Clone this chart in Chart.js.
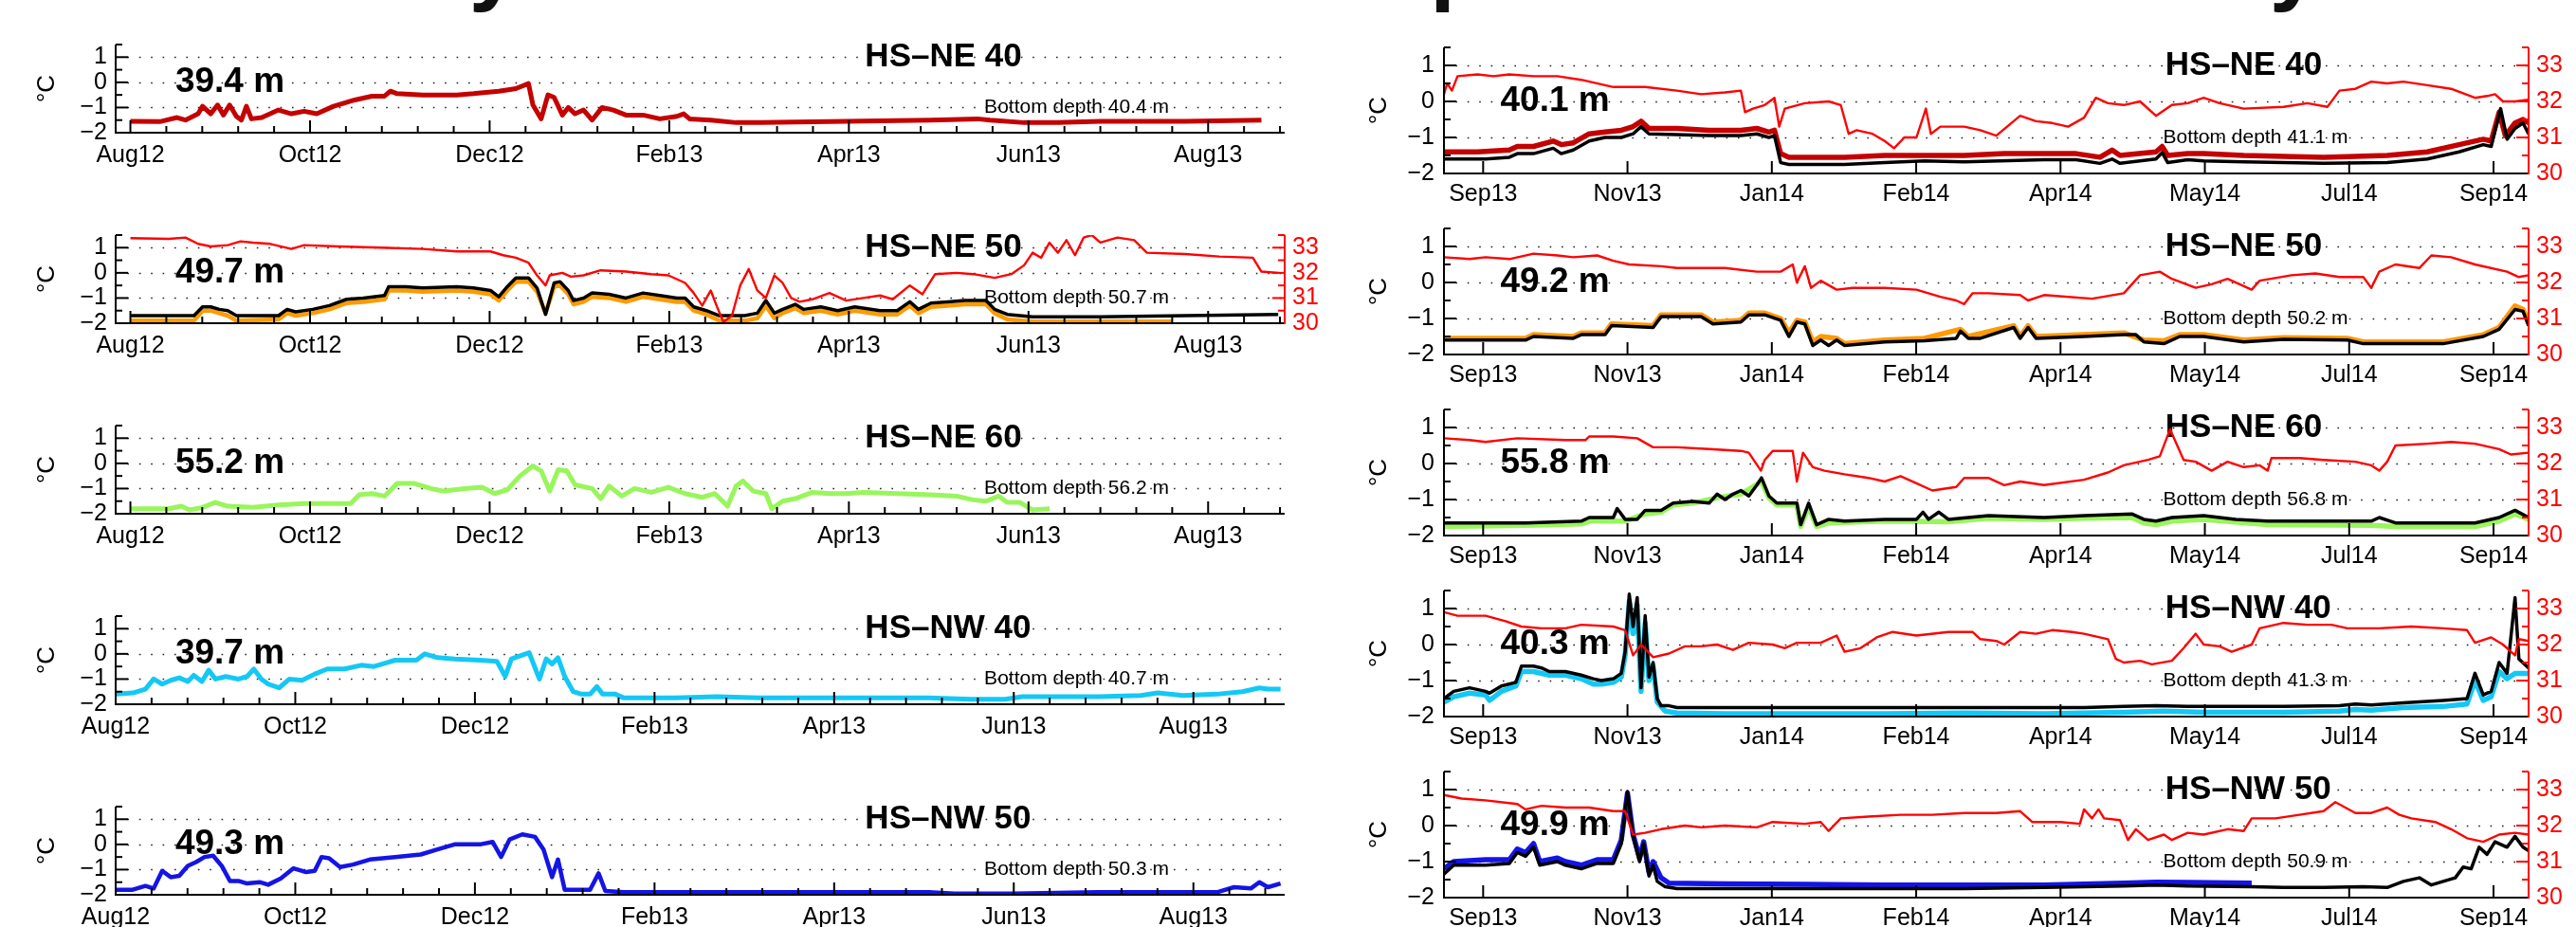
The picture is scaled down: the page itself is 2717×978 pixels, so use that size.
<!DOCTYPE html>
<html>
<head>
<meta charset="utf-8">
<script src="https://cdn.jsdelivr.net/npm/chart.js@4.4.1/dist/chart.umd.min.js"></script>
<style>
  body { margin: 0; background: #fff; width: 2717px; height: 978px; overflow: hidden; position: relative; }
  canvas { position: absolute; }
  .head { position: absolute; top: -88px; font: bold 96px/1 "Liberation Sans", Arial, sans-serif; white-space: nowrap; color: #111; }
</style>
</head>
<body>
<div class="head" style="left:260px">First year</div>
<div class="head" style="left:1318px">Temperature and salinity</div>
<script>
// x values are days since the start of each deployment (Aug 1 2012 / Sep 1 2013)
const siteNames = ['HS–NE 40', 'HS–NE 50', 'HS–NE 60', 'HS–NW 40', 'HS–NW 50'];
const sensorDepthsY1 = ['39.4 m', '49.7 m', '55.2 m', '39.7 m', '49.3 m'];
const bottomDepthsY1 = ['40.4 m', '50.7 m', '56.2 m', '40.7 m', '50.3 m'];
const sensorDepthsY2 = ['40.1 m', '49.2 m', '55.8 m', '40.3 m', '49.9 m'];
const bottomDepthsY2 = ['41.1 m', '50.2 m', '56.8 m', '41.3 m', '50.9 m'];
const tempTicks = [-2, -1, 0, 1];
const salTicks = [30, 31, 32, 33];
const MONTHS = ['Jan','Feb','Mar','Apr','May','Jun','Jul','Aug','Sep','Oct','Nov','Dec'];

// ---- 2012-2013 ----
const ne40Y1 = [[4,-1.55],[14,-1.56],[19.8,-1.4],[22.7,-1.5],[27,-1.25],[28.5,-0.95],[31.3,-1.25],[33.6,-0.9],[35.6,-1.3],[37.7,-0.9],[40,-1.35],[41.7,-1.5],[43.4,-0.95],[45.1,-1.45],[48.6,-1.4],[54.3,-1.1],[58.7,-1.25],[63,-1.15],[67.3,-1.25],[73,-0.95],[80.2,-0.7],[86,-0.55],[90.3,-0.55],[92.3,-0.35],[94.6,-0.45],[103.3,-0.5],[114.8,-0.5],[120.5,-0.45],[129.1,-0.35],[134.9,-0.25],[139.2,-0.05],[140.7,-0.9],[143.5,-1.45],[145.8,-0.5],[147.9,-0.6],[150.7,-1.3],[152.7,-1.0],[155,-1.25],[157.9,-1.1],[160.8,-1.5],[164.2,-1.0],[168,-1.1],[172.3,-1.3],[178.1,-1.3],[183.8,-1.45],[189.6,-1.35],[191.9,-1.25],[193.9,-1.45],[201.1,-1.5],[209.7,-1.6],[218.3,-1.6],[247.1,-1.55],[275.9,-1.5],[291.7,-1.45],[296,-1.5],[307.5,-1.6],[319,-1.6],[333.4,-1.55],[362.2,-1.55],[388.1,-1.5]];
const ne50Y1Black = [[4,-1.7],[25.6,-1.7],[28.5,-1.35],[31.3,-1.35],[34.2,-1.45],[37.1,-1.5],[40,-1.7],[54.3,-1.7],[57.2,-1.45],[60.1,-1.55],[65.9,-1.45],[71.6,-1.3],[77.4,-1.05],[83.1,-1.0],[90.3,-0.9],[91.7,-0.55],[97.5,-0.55],[103.3,-0.6],[114.8,-0.55],[120.5,-0.6],[126.3,-0.7],[129.1,-0.95],[132,-0.55],[134.9,-0.2],[139.2,-0.2],[142.1,-0.6],[145,-1.65],[147.9,-0.4],[149.9,-0.35],[152.7,-0.7],[154.5,-1.1],[157.9,-1.0],[160.8,-0.8],[166.6,-0.85],[172.3,-1.0],[178.1,-0.8],[183.8,-0.9],[189.6,-1.0],[192.4,-1.0],[195.3,-1.35],[199.6,-1.5],[204,-1.7],[212.6,-1.7],[216.9,-1.6],[219.8,-1.1],[222.7,-1.6],[225.5,-1.45],[229.8,-1.25],[232.7,-1.45],[238.5,-1.35],[244.2,-1.5],[250,-1.35],[258.6,-1.5],[264.4,-1.5],[268.7,-1.15],[271.6,-1.45],[275.9,-1.2],[281.6,-1.15],[287.4,-1.1],[294.6,-1.1],[297.5,-1.45],[301.8,-1.65],[310.4,-1.75],[333.4,-1.75],[362.2,-1.7],[393.8,-1.65]];
const ne50Y1Orange = [[4,-1.9],[25.6,-1.9],[28.5,-1.5],[31.3,-1.5],[34.2,-1.6],[37.1,-1.7],[40,-1.9],[54.3,-1.85],[57.2,-1.6],[60.1,-1.7],[65.9,-1.6],[71.6,-1.45],[77.4,-1.2],[83.1,-1.15],[90.3,-1.05],[91.7,-0.7],[97.5,-0.7],[103.3,-0.75],[114.8,-0.7],[120.5,-0.75],[126.3,-0.85],[129.1,-1.1],[132,-0.7],[134.9,-0.35],[139.2,-0.35],[142.1,-0.75],[145,-1.6],[147.9,-0.55],[149.9,-0.5],[152.7,-0.85],[154.5,-1.25],[157.9,-1.15],[160.8,-0.95],[166.6,-1.0],[172.3,-1.15],[178.1,-0.95],[183.8,-1.05],[189.6,-1.15],[192.4,-1.15],[195.3,-1.5],[199.6,-1.65],[204,-1.9],[212.6,-1.9],[216.9,-1.8],[219.8,-1.3],[222.7,-1.8],[225.5,-1.6],[229.8,-1.4],[232.7,-1.6],[238.5,-1.5],[244.2,-1.65],[250,-1.5],[258.6,-1.65],[264.4,-1.65],[268.7,-1.3],[271.6,-1.6],[275.9,-1.35],[281.6,-1.3],[287.4,-1.25],[294.6,-1.25],[297.5,-1.6],[301.8,-1.85],[310.4,-1.93],[333.4,-1.93],[357.9,-1.93]];
const ne50Y1Sal = [[4,33.38],[17,33.35],[22.7,33.4],[27,33.15],[31.3,33.05],[37.1,33.1],[41.4,33.25],[45.7,33.2],[51.5,33.15],[58.7,32.95],[63,33.1],[74.5,33.05],[88.9,33.0],[103.3,32.95],[114.8,32.85],[126.3,32.85],[130.6,32.7],[134.9,32.6],[139.2,32.4],[142.1,31.9],[145,31.5],[146.4,31.9],[150.7,32.0],[153.6,31.85],[157.9,31.9],[163.7,32.1],[172.3,32.05],[180.9,31.95],[186.7,31.9],[192.4,31.6],[195.3,31.2],[198.2,30.7],[201.1,31.3],[203.4,30.6],[205.4,30.05],[208.3,30.3],[211.1,31.5],[214,32.15],[216.9,31.3],[219.8,31.0],[222.7,31.9],[225.5,31.6],[228.4,31.0],[231.3,30.85],[235.6,30.95],[241.4,31.2],[247.1,30.9],[252.9,31.0],[258.6,31.1],[262.9,30.95],[268.7,31.5],[273,31.15],[277.3,31.95],[284.5,32.0],[290.3,31.95],[297.5,31.8],[303.2,31.95],[307.5,32.3],[310.4,32.8],[313.3,32.6],[316.1,33.2],[319,32.8],[321.9,33.3],[324.8,32.7],[327.7,33.4],[330.5,33.5],[333.4,33.2],[339.2,33.4],[344.9,33.3],[349.2,32.8],[362.2,32.75],[373.7,32.65],[385.2,32.6],[388.1,32.05],[393.8,32.0]];
const ne60Y1 = [[4,-1.8],[17,-1.8],[21.3,-1.7],[24.1,-1.85],[28.5,-1.75],[32.8,-1.55],[37.1,-1.7],[45.7,-1.75],[54.3,-1.65],[63,-1.6],[78.8,-1.6],[81.7,-1.25],[86,-1.2],[90.3,-1.3],[94.6,-0.8],[100.4,-0.8],[106.1,-1.0],[110.4,-1.1],[117.6,-1.0],[123.4,-0.95],[127.7,-1.2],[132,-1.05],[136.3,-0.5],[140.7,-0.1],[143.5,-0.3],[146.4,-1.1],[149.3,-0.25],[152.2,-0.3],[155,-0.85],[160.8,-1.0],[163.7,-1.4],[166.6,-0.9],[170.9,-1.3],[175.2,-1.0],[180.9,-1.15],[186.7,-0.95],[192.4,-1.2],[198.2,-1.35],[202.5,-1.2],[206.8,-1.7],[209.7,-0.9],[212,-0.7],[215.5,-1.1],[219.8,-1.2],[221.8,-1.8],[225.5,-1.5],[229.8,-1.4],[235.6,-1.15],[241.4,-1.2],[247.1,-1.2],[252.9,-1.15],[264.4,-1.2],[275.9,-1.25],[284.5,-1.3],[290.3,-1.45],[294.6,-1.5],[298.9,-1.3],[301.8,-1.55],[306.1,-1.55],[310.4,-1.85],[316.2,-1.8]];
const nw40Y1 = [[4,-1.6],[9.8,-1.55],[14.1,-1.4],[16.9,-1.0],[19.8,-1.2],[22.7,-1.05],[25.6,-0.95],[28.5,-1.1],[30.5,-0.85],[33.3,-1.1],[35.6,-0.65],[37.9,-1.0],[41.4,-0.9],[45.7,-1.0],[48.6,-0.9],[50.9,-0.6],[53.5,-1.0],[55.8,-1.2],[59.5,-1.35],[63,-1.0],[67.3,-1.05],[71.6,-0.8],[75.9,-0.6],[81.7,-0.6],[87.4,-0.45],[91.7,-0.5],[96.1,-0.35],[98.9,-0.25],[106.1,-0.25],[109,0.0],[113.3,-0.15],[119.1,-0.2],[127.7,-0.25],[133.5,-0.3],[136.3,-0.9],[138.4,-0.2],[142.1,-0.05],[144.4,0.05],[147.9,-1.0],[150.2,-0.2],[152.2,-0.4],[154.2,-0.15],[156.5,-0.9],[159.4,-1.5],[162.2,-1.6],[165.1,-1.6],[167.4,-1.3],[169.4,-1.6],[173.7,-1.6],[176.6,-1.75],[193.9,-1.75],[208.3,-1.7],[222.7,-1.75],[251.4,-1.75],[280.2,-1.75],[294.6,-1.8],[306.1,-1.8],[311.8,-1.7],[337.7,-1.7],[352.1,-1.65],[357.9,-1.55],[366.5,-1.65],[378,-1.6],[386.6,-1.5],[392.4,-1.35],[395.3,-1.4],[399.6,-1.4]];
const nw50Y1 = [[4,-1.8],[9.8,-1.8],[14.1,-1.65],[16.9,-1.75],[19.8,-1.05],[22.7,-1.3],[25.6,-1.25],[28.5,-0.85],[31.3,-0.7],[34.2,-0.5],[37.1,-0.45],[40,-0.85],[42.8,-1.45],[45.7,-1.45],[48.6,-1.55],[52.9,-1.5],[55.8,-1.6],[60.1,-1.35],[64.4,-0.95],[68.7,-1.1],[71.6,-1.05],[73.9,-0.5],[76.5,-0.55],[80.2,-0.9],[84.6,-0.8],[90.3,-0.6],[98.9,-0.5],[107.6,-0.4],[113.3,-0.2],[119.1,0.0],[127.7,0.0],[132,0.1],[134.9,-0.5],[137.8,0.2],[142.1,0.4],[146.4,0.3],[149.3,-0.2],[152.2,-1.3],[154.2,-0.6],[156.5,-1.8],[165.1,-1.8],[168,-1.15],[170.3,-1.85],[176.6,-1.9],[222.7,-1.9],[280.2,-1.9],[288.8,-1.95],[309,-1.95],[337.7,-1.9],[378,-1.9],[383.8,-1.7],[389.5,-1.75],[392.4,-1.5],[395.3,-1.7],[399.6,-1.55]];

// ---- 2013-2014 ----
const ne40Y2Red = [[11.7,-1.4],[23.1,-1.4],[33.9,-1.35],[36.6,-1.25],[42.1,-1.25],[48.8,-1.1],[51.5,-1.2],[55.6,-1.15],[61,-0.9],[66.4,-0.85],[71.9,-0.8],[75.9,-0.7],[78.6,-0.55],[81.3,-0.75],[90.8,-0.75],[101.7,-0.8],[112.5,-0.8],[117.9,-0.75],[122,-0.85],[123.9,-0.8],[126,-1.45],[128.8,-1.55],[147.7,-1.55],[161.3,-1.5],[188.3,-1.5],[201.9,-1.45],[215.4,-1.45],[226.3,-1.45],[234.4,-1.55],[238.5,-1.35],[241.2,-1.5],[253.4,-1.4],[255.5,-1.25],[257.4,-1.5],[264.2,-1.45],[269.6,-1.45],[283.2,-1.5],[310.3,-1.55],[331.9,-1.5],[345.5,-1.4],[356.3,-1.2],[364.5,-1.05],[367.2,-1.1],[369.9,-0.3],[372,-0.95],[375.3,-0.6],[378,-0.5],[379.9,-0.6]];
const ne40Y2Black = [[11.7,-1.6],[25.8,-1.6],[33.9,-1.55],[36.6,-1.45],[42.1,-1.45],[48.8,-1.3],[51.5,-1.45],[55.6,-1.35],[61,-1.1],[66.4,-1.0],[71.9,-1.0],[75.9,-0.9],[78.6,-0.7],[81.3,-0.9],[90.8,-0.92],[101.7,-0.95],[112.5,-0.95],[117.9,-0.9],[122,-1.0],[123.9,-0.95],[126,-1.7],[128.8,-1.75],[147.7,-1.75],[161.3,-1.7],[174.8,-1.65],[188.3,-1.68],[215.4,-1.62],[226.3,-1.62],[234.4,-1.72],[238.5,-1.6],[241.2,-1.72],[253.4,-1.6],[255.5,-1.42],[257.4,-1.7],[264.2,-1.62],[269.6,-1.65],[283.2,-1.68],[310.3,-1.72],[331.9,-1.7],[345.5,-1.6],[356.3,-1.4],[364.5,-1.2],[367.2,-1.25],[370.4,-0.2],[372.6,-1.05],[375.3,-0.75],[378,-0.6],[379.9,-0.9]];
const ne40Y2Sal = [[11.7,32.2],[12.8,32.5],[14.4,32.3],[16.3,32.7],[23.1,32.75],[28.5,32.7],[33.9,32.75],[42.1,32.7],[50.2,32.7],[58.3,32.6],[69.2,32.4],[80,32.4],[90.8,32.3],[99,32.2],[107.1,32.25],[112.5,32.3],[113.9,31.7],[116.6,31.8],[120.6,31.9],[123.9,32.1],[125.5,31.3],[127.4,31.8],[134.2,31.95],[142.3,32.0],[146.4,31.9],[149.1,31.1],[151.8,31.2],[157.2,31.1],[161.3,30.9],[164.5,30.7],[168,31.0],[172.1,31.0],[175.3,31.8],[177,31.1],[180.2,31.3],[188.3,31.3],[193.8,31.2],[199.2,31.05],[207.3,31.6],[212.7,31.45],[218.2,31.4],[223.6,31.3],[229,31.55],[233,32.1],[237.1,31.95],[242.5,31.9],[248,32.0],[253.4,31.6],[258.8,31.9],[264.2,31.95],[269.6,32.1],[275,31.95],[283.2,31.8],[296.7,31.85],[304.8,31.95],[311.6,31.85],[315.7,32.3],[321.1,32.35],[326.5,32.55],[331.9,32.5],[337.4,32.55],[345.5,32.45],[353.6,32.35],[361.7,32.1],[365.8,32.15],[368.5,32.2],[371.2,32.0],[375.3,32.0],[379.9,32.05]];
const ne50Y2Black = [[11.7,-1.6],[39.4,-1.6],[42.1,-1.5],[55.6,-1.55],[58.3,-1.45],[66.4,-1.45],[68.6,-1.2],[82.7,-1.25],[85.4,-0.95],[99,-0.95],[103,-1.15],[112.5,-1.1],[115.2,-0.9],[120.6,-0.9],[126,-1.05],[128.8,-1.5],[131.5,-1.1],[134.2,-1.15],[136.9,-1.75],[139.6,-1.6],[142.3,-1.75],[145,-1.6],[147.7,-1.75],[161.3,-1.65],[174.8,-1.62],[185.6,-1.55],[187,-1.35],[189.7,-1.55],[193.8,-1.55],[205.1,-1.25],[207.3,-1.55],[210,-1.25],[212.7,-1.55],[229,-1.5],[242.5,-1.45],[246.6,-1.45],[249.3,-1.65],[256.1,-1.7],[261.5,-1.5],[269.6,-1.5],[283.2,-1.65],[296.7,-1.58],[318.4,-1.6],[323.8,-1.7],[350.9,-1.7],[364.5,-1.5],[369.9,-1.3],[375.3,-0.75],[378,-0.8],[379.9,-1.2]];
const ne50Y2Orange = [[11.7,-1.55],[39.4,-1.55],[42.1,-1.45],[55.6,-1.5],[58.3,-1.4],[66.4,-1.4],[68.6,-1.15],[82.7,-1.2],[85.4,-0.9],[99,-0.9],[103,-1.1],[112.5,-1.05],[115.2,-0.85],[120.6,-0.85],[126,-1.0],[128.8,-1.4],[131.5,-1.05],[134.2,-1.1],[136.9,-1.65],[139.6,-1.5],[145,-1.55],[147.7,-1.7],[161.3,-1.6],[174.8,-1.55],[187,-1.3],[189.7,-1.5],[205.1,-1.2],[207.3,-1.5],[210,-1.2],[212.7,-1.5],[242.5,-1.4],[249.3,-1.6],[256.1,-1.62],[261.5,-1.45],[269.6,-1.45],[283.2,-1.6],[296.7,-1.53],[318.4,-1.55],[323.8,-1.65],[350.9,-1.65],[364.5,-1.45],[369.9,-1.25],[375.3,-0.65],[378,-0.75],[379.9,-1.1]];
const ne50Y2Sal = [[11.7,32.7],[20.4,32.65],[25.8,32.7],[33.9,32.65],[42.1,32.8],[50.2,32.75],[55.6,32.7],[63.7,32.75],[69.2,32.6],[74.6,32.5],[85.4,32.45],[90.8,32.4],[107.1,32.4],[117.9,32.3],[126,32.3],[130.1,32.5],[131.5,32.0],[134.2,32.45],[136.3,31.85],[139.6,32.05],[145,31.8],[150.4,31.85],[161.3,31.85],[172.1,31.8],[180.2,31.6],[185.6,31.5],[188.3,31.4],[191.1,31.7],[196.5,31.7],[207.3,31.65],[210,31.5],[215.4,31.65],[231.7,31.55],[242.5,31.7],[248,32.2],[254.7,32.3],[258.8,32.1],[266.9,31.85],[272.3,31.95],[277.7,32.1],[285.9,31.8],[288.6,32.05],[299.4,32.2],[307.5,32.25],[315.7,32.15],[323.8,32.15],[326.5,31.85],[329.2,32.3],[334.7,32.5],[342.8,32.4],[346.9,32.75],[353.6,32.7],[361.7,32.5],[372.6,32.3],[376.6,32.15],[379.9,32.2]];
const ne60Y2Black = [[11.7,-1.65],[39.4,-1.65],[58.3,-1.6],[61,-1.5],[69.2,-1.5],[70.5,-1.25],[73.2,-1.55],[77.3,-1.55],[80,-1.3],[85.4,-1.3],[89.5,-1.1],[96.2,-1.05],[101.7,-1.1],[104.4,-0.85],[107.1,-1.0],[109.8,-0.85],[112.5,-0.75],[115.2,-0.9],[117.9,-0.6],[119.5,-0.4],[122,-0.9],[124.7,-1.1],[131.5,-1.1],[132.8,-1.7],[135.5,-1.1],[138.2,-1.7],[142.3,-1.55],[147.7,-1.6],[161.3,-1.55],[172.1,-1.55],[174.3,-1.35],[176.2,-1.55],[179.7,-1.35],[182.9,-1.55],[196.5,-1.45],[215.4,-1.5],[229,-1.45],[245.2,-1.4],[249.3,-1.55],[253.4,-1.6],[258.8,-1.5],[269.6,-1.45],[280.5,-1.55],[291.3,-1.6],[310.3,-1.6],[326.5,-1.6],[329.2,-1.5],[334.7,-1.65],[361.7,-1.65],[369.9,-1.5],[375.3,-1.3],[379.9,-1.5]];
const ne60Y2Green = [[11.7,-1.75],[39.4,-1.72],[58.3,-1.68],[61,-1.6],[69.2,-1.6],[73.2,-1.6],[80,-1.4],[85.4,-1.35],[89.5,-1.15],[96.2,-1.1],[104.4,-0.95],[112.5,-0.85],[119.5,-0.5],[122,-0.95],[124.7,-1.15],[131.5,-1.15],[132.8,-1.75],[135.5,-1.2],[138.2,-1.75],[142.3,-1.65],[161.3,-1.6],[182.9,-1.62],[196.5,-1.52],[215.4,-1.55],[229,-1.52],[245.2,-1.5],[249.3,-1.65],[253.4,-1.7],[258.8,-1.6],[269.6,-1.55],[291.3,-1.7],[326.5,-1.72],[334.7,-1.75],[361.7,-1.75],[369.9,-1.6],[375.3,-1.4],[379.9,-1.55]];
const ne60Y2Sal = [[11.7,32.7],[20.4,32.65],[25.8,32.6],[36.6,32.7],[52.9,32.65],[59.7,32.65],[61,32.75],[69.2,32.75],[77.3,32.7],[82.7,32.45],[90.8,32.45],[101.7,32.4],[112.5,32.35],[115.2,32.3],[119.3,31.8],[120.6,32.1],[123.3,32.35],[130.1,32.35],[131.5,31.5],[133.6,32.3],[136.9,31.9],[140.9,31.8],[147.7,31.7],[155.8,31.6],[161.3,31.5],[166.7,31.65],[172.1,31.45],[177.5,31.25],[185.6,31.35],[188.3,31.6],[196.5,31.6],[201.9,31.4],[207.3,31.5],[215.4,31.4],[229,31.55],[237.1,31.75],[242.5,31.95],[250.7,32.1],[254.7,32.2],[258.2,32.95],[262.8,32.1],[266.9,32.05],[272.3,31.8],[277.7,32.05],[283.2,31.9],[288.6,31.95],[291.3,31.8],[292.6,32.15],[302.1,32.15],[310.3,32.1],[321.1,32.05],[326.5,31.95],[329.2,31.8],[331.9,32.05],[334.7,32.5],[345.5,32.55],[353.6,32.6],[361.7,32.55],[369.9,32.4],[373.9,32.25],[379.9,32.3]];
const nw40Y2Black = [[11.7,-1.5],[15,-1.3],[20.4,-1.2],[25.8,-1.3],[27.2,-1.35],[31.2,-1.15],[36.1,-1.05],[38,-0.6],[42.1,-0.6],[44.8,-0.65],[47.5,-0.75],[52.9,-0.75],[58.3,-0.85],[62.4,-0.95],[65.1,-1.0],[69.2,-0.95],[71.9,-0.8],[73.2,-0.2],[74.6,1.4],[75.9,0.5],[77.3,1.3],[78.6,-1.2],[80,0.8],[81.3,-0.9],[82.7,-0.5],[84.1,-1.5],[85.4,-1.7],[88.1,-1.7],[90.8,-1.75],[188.3,-1.75],[229,-1.75],[242.5,-1.72],[253.4,-1.7],[264.2,-1.72],[296.7,-1.72],[315.7,-1.7],[321.1,-1.65],[326.5,-1.68],[337.4,-1.62],[350.9,-1.55],[359,-1.5],[361.7,-0.8],[364.5,-1.4],[367.2,-1.3],[369.9,-0.5],[372.6,-0.8],[375.3,1.3],[376.6,-0.4],[379.9,-0.65]];
const nw40Y2Cyan = [[11.7,-1.6],[15,-1.45],[20.4,-1.35],[25.8,-1.4],[27.2,-1.55],[31.2,-1.3],[36.1,-1.15],[38,-0.75],[42.1,-0.75],[47.5,-0.85],[52.9,-0.85],[58.3,-0.95],[62.4,-1.1],[65.1,-1.1],[69.2,-1.05],[71.9,-0.9],[73.2,-0.3],[74.6,1.2],[75.9,0.3],[77.3,1.1],[78.6,-1.3],[80,0.6],[81.3,-1.0],[82.7,-0.6],[84.1,-1.6],[86.8,-1.85],[90.8,-1.9],[107.1,-1.92],[161.3,-1.92],[188.3,-1.9],[215.4,-1.92],[242.5,-1.88],[256.1,-1.85],[269.6,-1.88],[296.7,-1.88],[315.7,-1.85],[321.1,-1.8],[326.5,-1.82],[337.4,-1.75],[350.9,-1.72],[359,-1.65],[361.7,-1.0],[364.5,-1.55],[367.2,-1.45],[369.9,-0.75],[372.6,-0.95],[375.3,-0.8],[379.9,-0.8]];
const nw40Y2Sal = [[11.7,32.9],[16.3,32.8],[25.8,32.8],[32.6,32.65],[38,32.5],[44.8,32.45],[52.9,32.45],[58.3,32.55],[69.2,32.5],[73.2,32.4],[75.9,31.7],[78.6,32.0],[82.7,31.65],[88.1,31.75],[93.5,31.95],[99,31.95],[104.4,32.0],[109.8,31.85],[115.2,32.05],[123.3,32.0],[127.4,31.9],[131.5,32.05],[139.6,32.05],[145,32.25],[147.7,31.8],[153.1,31.9],[158.6,32.2],[164,32.35],[172.1,32.25],[182.9,32.35],[191.1,32.35],[193.8,32.15],[199.2,32.1],[201.9,32.0],[207.3,32.35],[212.7,32.3],[218.2,32.4],[224.9,32.35],[229,32.3],[237.1,32.15],[239.8,31.6],[242.5,31.5],[248,31.55],[252,31.45],[258.8,31.55],[262.8,31.9],[266.9,32.3],[269.6,32.0],[275,31.95],[279.1,31.8],[285.9,32.0],[288.6,32.45],[296.7,32.6],[304.8,32.55],[313,32.55],[318.4,32.45],[329.2,32.45],[340.1,32.5],[350.9,32.45],[359,32.4],[361.7,32.05],[367.2,32.2],[371.2,32.0],[375.3,31.7],[376.6,32.15],[379.9,32.1]];
const nw50Y2Black = [[11.7,-1.35],[15,-1.1],[25.8,-1.1],[33.9,-1.05],[36.6,-0.75],[39.4,-0.85],[42.1,-0.6],[44.2,-1.1],[50.2,-1.0],[52.9,-1.1],[58.3,-1.2],[63.7,-1.05],[69.2,-1.05],[71.9,-0.5],[74,0.95],[75.9,-0.3],[78.1,-1.0],[79.5,-0.5],[81.3,-1.4],[82.7,-1.1],[84.1,-1.55],[86.8,-1.7],[90.8,-1.75],[188.3,-1.75],[215.4,-1.72],[229,-1.7],[242.5,-1.68],[253.4,-1.65],[264.2,-1.68],[285.9,-1.7],[296.7,-1.72],[310.3,-1.72],[323.8,-1.7],[331.9,-1.72],[337.4,-1.55],[342.8,-1.45],[346.9,-1.65],[350.9,-1.55],[355,-1.45],[357.7,-1.15],[360.4,-1.2],[363.1,-0.6],[365.8,-0.8],[368.5,-0.45],[372.6,-0.6],[375.3,-0.3],[378,-0.6],[379.9,-0.7]];
const nw50Y2Blue = [[11.7,-1.2],[15,-1.0],[25.8,-0.95],[33.9,-0.95],[36.6,-0.65],[39.4,-0.75],[42.1,-0.5],[44.2,-1.0],[50.2,-0.9],[52.9,-1.0],[58.3,-1.1],[63.7,-0.95],[69.2,-0.95],[71.9,-0.4],[74,0.9],[75.9,-0.25],[78.1,-0.9],[79.5,-0.45],[81.3,-1.3],[82.7,-1.0],[85.4,-1.45],[88.1,-1.6],[107.1,-1.62],[134.2,-1.63],[161.3,-1.65],[188.3,-1.65],[215.4,-1.65],[242.5,-1.6],[253.4,-1.57],[264.2,-1.58],[285.9,-1.6]];
const nw50Y2Sal = [[11.7,32.85],[17.7,32.75],[25.8,32.7],[36.6,32.6],[39.4,32.45],[44.8,32.55],[52.9,32.5],[61,32.5],[69.2,32.4],[73.2,32.4],[75.9,31.75],[80,31.8],[85.4,31.9],[93.5,32.0],[99,31.95],[107.1,32.0],[117.9,31.95],[123.3,32.1],[134.2,32.05],[139.6,32.1],[142.3,31.85],[146.4,32.2],[155.8,32.25],[166.7,32.3],[177.5,32.3],[188.3,32.35],[199.2,32.35],[207.3,32.4],[211.4,32.1],[220.9,32.1],[227.6,32.05],[229,32.45],[231.7,32.2],[233.9,32.45],[235.8,32.2],[241.2,32.15],[243.9,31.6],[246.6,31.9],[250.7,31.6],[256.1,31.75],[258.8,31.6],[264.2,31.8],[269.6,31.75],[277.7,31.9],[283.2,31.85],[285.9,32.2],[294,32.2],[302.1,32.3],[310.3,32.4],[314.3,32.65],[321.1,32.35],[326.5,32.35],[331.9,32.5],[336,32.3],[340.1,32.2],[348.2,32.1],[353.6,31.9],[359,31.65],[364.5,31.55],[369.9,31.75],[375.3,31.8],[379.9,31.75]];

const FONT = '"Liberation Sans", Arial, Helvetica, sans-serif';
const BLACK = '#000000', DARK_RED = '#c40000', ORANGE = '#ff9a00', GREEN = '#99f55c', CYAN = '#14c8f5', BLUE = '#1414e6', SAL_RED = '#ff0000';

const columns = {
  y1: { left: 0, width: 1440, plotLeft: 122, plotRight: 1355, plotH: 97, top0: 43, step: 201,
        base: Date.UTC(2012, 7, 1), tickStep: 61, minorPerMajor: 5, xPad: 9, yPad: 9, titleX: 50,
        depthX: 0.051, nameX: 0.641, bottomX: 0.743 },
  y2: { left: 1410, width: 1307, plotLeft: 1523, plotRight: 2667, plotH: 138, top0: 45, step: 191,
        base: Date.UTC(2013, 8, 1), tickStep: 49, minorPerMajor: 1, xPad: 7, yPad: 10, titleX: 45,
        depthX: 0.052, nameX: 0.665, bottomX: 0.663 }
};

const year1 = [
  { xMin: -1, xMax: 396, tick0: 4, temps: [[ne40Y1, DARK_RED, 5]] },
  { xMin: -1, xMax: 396, tick0: 4, temps: [[ne50Y1Black, BLACK, 3.5], [ne50Y1Orange, ORANGE, 4.5]], sal: ne50Y1Sal },
  { xMin: -1, xMax: 396, tick0: 4, temps: [[ne60Y1, GREEN, 5]] },
  { xMin: 4, xMax: 401, tick0: 4, temps: [[nw40Y1, CYAN, 5]] },
  { xMin: 4, xMax: 401, tick0: 4, temps: [[nw50Y1, BLUE, 4.5]] }
];
const year2 = [
  { temps: [[ne40Y2Black, BLACK, 3.5], [ne40Y2Red, DARK_RED, 5.5]], sal: ne40Y2Sal },
  { temps: [[ne50Y2Black, BLACK, 3.5], [ne50Y2Orange, ORANGE, 5.5]], sal: ne50Y2Sal },
  { temps: [[ne60Y2Black, BLACK, 3.5], [ne60Y2Green, GREEN, 5.5]], sal: ne60Y2Sal },
  { temps: [[nw40Y2Black, BLACK, 3.5], [nw40Y2Cyan, CYAN, 5.5]], sal: nw40Y2Sal },
  { temps: [[nw50Y2Black, BLACK, 3.5], [nw50Y2Blue, BLUE, 5.5]], sal: nw50Y2Sal }
];

function dateLabel(base, day) {
  const d = new Date(base + day * 86400000);
  return MONTHS[d.getUTCMonth()] + String(d.getUTCFullYear()).slice(2);
}
const fmtTemp = v => (v < 0 ? '\u2212' + (-v) : String(v));

function line(ctx, x1, y1, x2, y2) {
  ctx.beginPath(); ctx.moveTo(x1, y1); ctx.lineTo(x2, y2); ctx.stroke();
}

function drawPanel(col, p, i, labels) {
  // padTop is kept above half a tick-label height so Chart.js does not push the plot down
  const padTop = 20, xAxisH = 45, salW = 50;
  const top = col.top0 + col.step * i;
  const canvas = document.createElement('canvas');
  canvas.width = col.width;
  canvas.height = padTop + col.plotH + xAxisH;
  canvas.style.left = col.left + 'px';
  canvas.style.top = (top - padTop) + 'px';
  document.body.appendChild(canvas);

  const majors = [];
  for (let v = p.tick0; v <= p.xMax; v += col.tickStep) majors.push(v);

  // salinity first so it is painted last (on top)
  const datasets = [];
  if (p.sal) datasets.push({ data: p.sal, borderColor: SAL_RED, borderWidth: 2.4, yAxisID: 'ys' });
  p.temps.forEach(([data, color, w]) => datasets.push({ data, borderColor: color, borderWidth: w, yAxisID: 'y' }));
  datasets.forEach(d => Object.assign(d, { pointRadius: 0, tension: 0, borderJoinStyle: 'round', fill: false }));

  const tickFont = { family: FONT, size: 25 };
  const scales = {
    x: {
      type: 'linear', min: p.xMin, max: p.xMax, bounds: 'data',
      grid: { display: false, drawTicks: false }, border: { display: false },
      afterBuildTicks: s => { s.ticks = majors.map(v => ({ value: v })); },
      afterFit: s => { s.height = xAxisH; },
      ticks: { autoSkip: false, maxRotation: 0, padding: col.xPad, color: BLACK, font: tickFont,
               callback: v => dateLabel(col.base, v) }
    },
    y: {
      position: 'left', min: -2, max: 1.5,
      grid: { display: false, drawTicks: false }, border: { display: false },
      afterBuildTicks: s => { s.ticks = tempTicks.map(v => ({ value: v })); },
      afterFit: s => { s.width = col.plotLeft - col.left; },
      ticks: { autoSkip: false, padding: col.yPad, color: BLACK, font: tickFont, callback: fmtTemp },
      title: { display: true, text: '°C', color: BLACK, font: { family: FONT, size: 26 },
               padding: { top: col.titleX - 15.6, bottom: 0 } }
    }
  };
  if (p.sal) {
    scales.ys = {
      position: 'right', min: 30, max: 33.5,
      grid: { display: false, drawTicks: false }, border: { display: false },
      afterBuildTicks: s => { s.ticks = salTicks.map(v => ({ value: v })); },
      afterFit: s => { s.width = salW; },
      ticks: { autoSkip: false, padding: 8, color: SAL_RED, font: tickFont }
    };
  }

  const drawText = chart => {
    const { ctx, chartArea: a, scales: { y } } = chart;
    const w = a.right - a.left;
    ctx.save();
    ctx.fillStyle = BLACK; ctx.textAlign = 'left'; ctx.textBaseline = 'middle';
    ctx.font = `bold 37px ${FONT}`;
    ctx.fillText(labels.depth, a.left + col.depthX * w, y.getPixelForValue(0));
    ctx.font = `bold 35px ${FONT}`;
    ctx.fillText(labels.name, a.left + col.nameX * w, y.getPixelForValue(1));
    ctx.font = `21px ${FONT}`;
    ctx.fillText('Bottom depth ' + labels.bottom, a.left + col.bottomX * w, y.getPixelForValue(-1));
    ctx.restore();
  };

  const decor = {
    id: 'decor',
    beforeDatasetsDraw(chart) {
      const { ctx, chartArea: a, scales: { y } } = chart;
      ctx.save();
      ctx.strokeStyle = '#222'; ctx.lineWidth = 1.6; ctx.setLineDash([1.6, 10.8]);
      [-1, 0, 1].forEach(v => {
        const py = Math.round(y.getPixelForValue(v)) + 0.5;
        line(ctx, a.left, py, a.right, py);
      });
      ctx.restore();
    },
    beforeDatasetDraw(chart, args) {
      if (p.sal && args.index === 0) drawText(chart);
    },
    afterDatasetsDraw(chart) {
      if (!p.sal) drawText(chart);
      const { ctx, chartArea: a, scales: { x, y, ys } } = chart;
      ctx.save();
      ctx.lineWidth = 2; ctx.strokeStyle = BLACK; ctx.lineCap = 'butt';
      // axes
      line(ctx, a.left, a.top, a.left, a.bottom + 1);
      line(ctx, a.left, a.bottom, a.right, a.bottom);
      // inward y ticks, major on integers and minor on halves
      for (let v = -1.5; v <= 1.5; v += 0.5) {
        const py = y.getPixelForValue(v);
        line(ctx, a.left, py, a.left + (Number.isInteger(v) ? 13 : 7), py);
      }
      // inward x ticks
      const minorStep = col.tickStep / col.minorPerMajor;
      for (let v = p.tick0; v <= p.xMax + 0.01; v += minorStep) {
        const k = Math.round((v - p.tick0) / minorStep);
        const px = x.getPixelForValue(v);
        line(ctx, px, a.bottom, px, a.bottom - (k % col.minorPerMajor === 0 ? 13 : 7));
      }
      if (ys) {
        ctx.strokeStyle = SAL_RED;
        line(ctx, a.right, a.top, a.right, a.bottom + 1);
        for (let v = 30.5; v <= 33.5; v += 0.5) {
          const py = ys.getPixelForValue(v);
          line(ctx, a.right, py, a.right - (Number.isInteger(v) ? 13 : 7), py);
        }
      }
      ctx.restore();
    }
  };

  const padRight = col.width - (col.plotRight - col.left) - (p.sal ? salW : 0);
  new Chart(canvas, {
    type: 'line',
    data: { datasets },
    options: {
      responsive: false, animation: false, devicePixelRatio: 1,
      layout: { padding: { left: 0, top: padTop, right: padRight, bottom: 0 } },
      plugins: { legend: { display: false }, tooltip: { enabled: false } },
      scales
    },
    plugins: [decor]
  });
}

const y2Range = { xMin: 11.7, xMax: 379.9, tick0: 25 };
year1.forEach((p, i) => drawPanel(columns.y1, p, i,
  { name: siteNames[i], depth: sensorDepthsY1[i], bottom: bottomDepthsY1[i] }));
year2.forEach((p, i) => drawPanel(columns.y2, Object.assign({}, y2Range, p), i,
  { name: siteNames[i], depth: sensorDepthsY2[i], bottom: bottomDepthsY2[i] }));
</script>
</body>
</html>
